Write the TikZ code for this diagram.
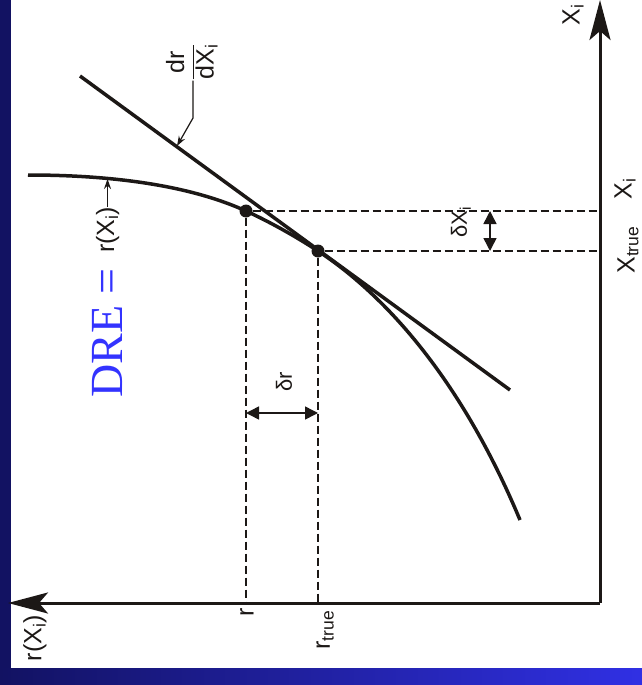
\documentclass[tikz,border=0pt]{standalone}
\usepackage{fontspec}
\setmainfont{Liberation Sans}
\newfontfamily\serif{Liberation Serif}
\usetikzlibrary{arrows.meta}

\definecolor{ink}{RGB}{28,24,22}
\definecolor{dreblue}{RGB}{51,51,255}
\definecolor{navy}{RGB}{18,18,98}
\definecolor{brightblue}{RGB}{48,48,228}

\tikzset{
  axisline/.style={ink, line width=3pt, -{Stealth[length=40pt,width=21pt,inset=9pt]}},
  trace/.style={ink, line width=3.5pt},
  guide/.style={ink, line width=2pt, dash pattern=on 8pt off 4pt},
  opdot/.style={circle, fill=ink, inner sep=0pt, minimum size=13pt},
  diffarrow/.style={ink, line width=1.5pt, {Triangle[length=13pt,width=13pt]}-{Triangle[length=13pt,width=13pt]}},
  pointer/.style={ink, line width=1.2pt, -{Stealth[length=10pt,width=7pt]}},
  lbl/.style={text=ink, font=\fontsize{25}{29}\selectfont},
  smalllbl/.style={text=ink, font=\fontsize{22}{26}\selectfont}
}

\begin{document}
\begin{tikzpicture}[x=1pt, y=-1pt]
  % Frame
  \useasboundingbox (0,0) rectangle (642,685);
  \fill[navy] (0,0) rectangle (11,685);
  \shade[left color=navy, right color=brightblue] (0,668) rectangle (642,685);

  % Axes
  \coordinate (O) at (600,603);
  \draw[axisline] (O) -- (600,0);
  \draw[axisline] (O) -- (8,603);
  \node[lbl, rotate=90] (xaxis) at (573,15) {X\textsubscript{i}};
  \node[lbl, rotate=90] (raxis) at (35,638) {r(X\textsubscript{i})};

  % Response curve and its tangent
  \draw[trace] (28,175) .. controls (130,175) and (200,190) .. (246,211)
    .. controls (270,222) and (295,236) .. (318,251)
    .. controls (400,305) and (470,400) .. (520,520);
  \draw[trace] (80,76) -- (510,390);

  % Operating points
  \node[opdot] (pt1) at (246,211) {};
  \node[opdot] (pt2) at (318,251) {};

  % Guide lines
  \draw[guide] (pt1) -- (pt1 -| O);
  \draw[guide] (pt2) -- (pt2 -| O);
  \draw[guide] (pt1) -- (pt1 |- O);
  \draw[guide] (pt2) -- (pt2 |- O);

  % Tick labels
  \node[lbl, rotate=90] (rtick) at (247,612) {r};
  \node[lbl, rotate=90] (rtrue) at (325,630) {r\textsubscript{true}};
  \node[lbl, rotate=90] (xtick) at (625,189) {X\textsubscript{i}};
  \node[lbl, rotate=90] (xtrue) at (628,250) {X\textsubscript{true}};

  % Differences
  \node[smalllbl, rotate=90] (dr) at (284,382) {δr};
  \draw[diffarrow] (pt1 |- 0,413) -- (pt2 |- 0,413);
  \node[smalllbl, rotate=90] (dx) at (461,222) {δX\textsubscript{i}};
  \draw[diffarrow] (pt1 -| 490,0) -- (pt2 -| 490,0);

  % Slope label
  \node[lbl, rotate=90, inner sep=1pt] (slope) at (193,62)
    {\begin{tabular}{@{}c@{}}dr\\\hline dX\textsubscript{i}\end{tabular}};
  \coordinate (bend) at (191,118);
  \coordinate (stip) at (177,146);
  \draw[pointer] (slope.west) -- (slope.west |- bend) -- (stip);

  % Curve label
  \node[anchor=base west, rotate=90, inner sep=0pt, text=dreblue,
        font=\serif\fontsize{46}{50}\selectfont] (dre) at (122,398) {DRE =};
  \node[lbl, anchor=base west, rotate=90, inner sep=0pt] (rx) at (114,253) {r(X\textsubscript{i})};
  \coordinate (rtip) at (103,179);
  \draw[pointer] (rx.east) -- (rx.east |- rtip);
\end{tikzpicture}
\end{document}
